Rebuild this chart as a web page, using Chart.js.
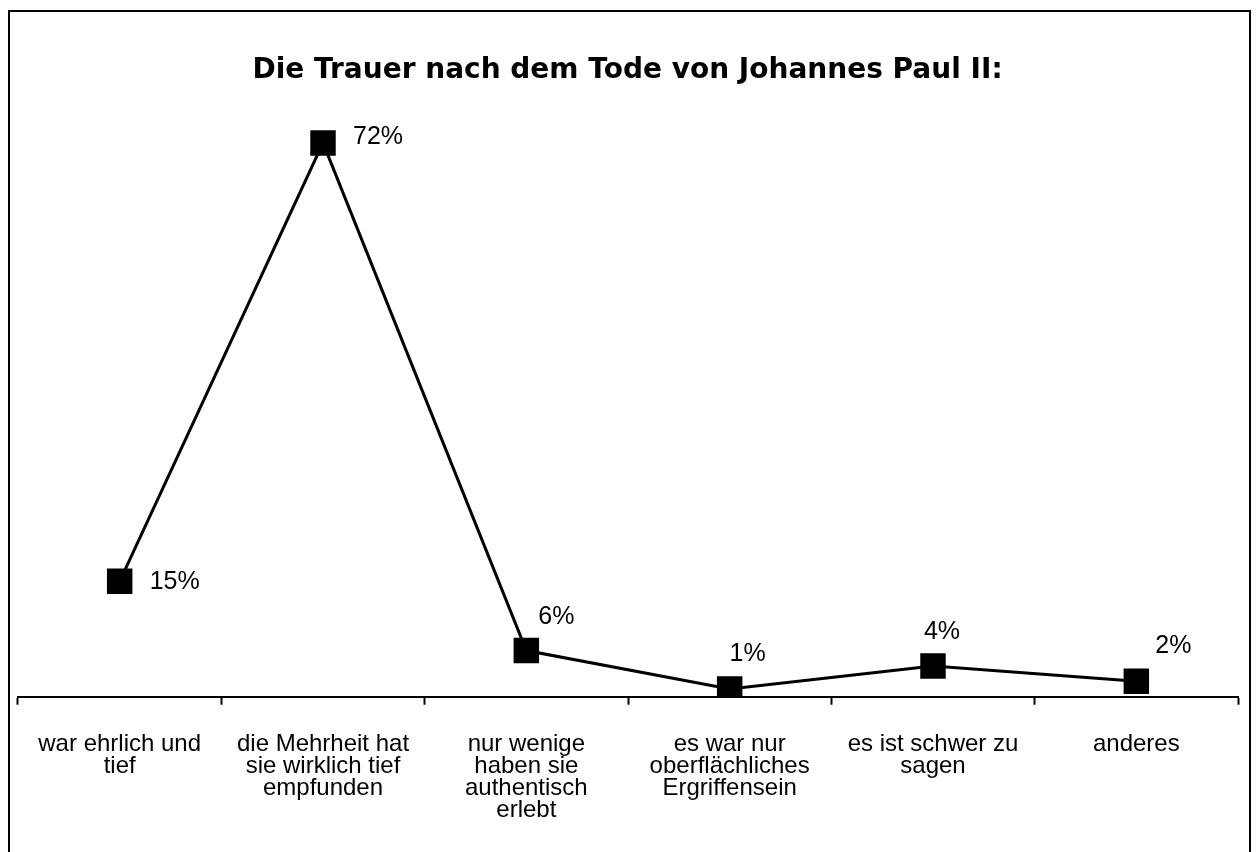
<!DOCTYPE html>
<html>
<head>
<meta charset="utf-8">
<script src="https://cdn.jsdelivr.net/npm/chart.js@4"></script>
<style>
  html, body { margin: 0; padding: 0; background: #fff; }
  #wrap { width: 1256px; height: 852px; }
</style>
</head>
<body>
<div id="wrap"><canvas id="trauerChart" width="1256" height="852"></canvas></div>
<script>
var categories = [
    ['war ehrlich und', 'tief'],
    ['die Mehrheit hat', 'sie wirklich tief', 'empfunden'],
    ['nur wenige', 'haben sie', 'authentisch', 'erlebt'],
    ['es war nur', 'oberflächliches', 'Ergriffensein'],
    ['es ist schwer zu', 'sagen'],
    ['anderes']
];
var values = [15, 72, 6, 1, 4, 2];

// label position relative to each marker (dx, dy, align)
var labelPlacement = [
    [30, 1, 'left'], [30, -6, 'left'], [30, -33, 'center'],
    [18, -35, 'center'], [9, -34, 'center'], [37, -35, 'center']
];

var frame = {
    id: 'frame',
    beforeDraw: function(chart) {
        var ctx = chart.ctx;
        ctx.save();
        ctx.fillStyle = '#fff';
        ctx.fillRect(0, 0, chart.width, chart.height);
        ctx.strokeStyle = '#000';
        ctx.lineWidth = 2;
        ctx.strokeRect(9, 11, 1241, 860);
        ctx.restore();
    }
};

var valueLabels = {
    id: 'valueLabels',
    afterDatasetsDraw: function(chart) {
        var ctx = chart.ctx;
        var meta = chart.getDatasetMeta(0);
        ctx.save();
        ctx.fillStyle = '#000';
        ctx.font = '25px "Liberation Sans", Arial, sans-serif';
        ctx.textBaseline = 'middle';
        meta.data.forEach(function(pt, i) {
            var p = labelPlacement[i];
            ctx.textAlign = p[2];
            ctx.fillText(values[i] + '%', pt.x + p[0], pt.y + p[1]);
        });
        ctx.restore();
    }
};

var trauerChart = new Chart(document.getElementById('trauerChart').getContext('2d'), {
    type: 'line',
    data: {
        labels: categories,
        datasets: [{
            data: values,
            borderColor: '#000',
            borderWidth: 3,
            backgroundColor: '#000',
            pointStyle: 'rect',
            pointRadius: 18,
            pointHoverRadius: 18,
            pointBorderWidth: 0,
            tension: 0
        }]
    },
    options: {
        responsive: false,
        animation: false,
        events: [],
        layout: {
            padding: { left: 17, right: 18, top: 0, bottom: 2 }
        },
        plugins: {
            legend: { display: false },
            tooltip: { enabled: false },
            title: {
                display: true,
                text: 'Die Trauer nach dem Tode von Johannes Paul II:',
                color: '#000',
                font: { family: '"DejaVu Sans", Arial, sans-serif', size: 28, weight: 'bold' },
                padding: { top: 54, bottom: 13 }
            }
        },
        scales: {
            x: {
                offset: true,
                grid: {
                    offset: true,
                    drawOnChartArea: false,
                    drawTicks: true,
                    tickLength: 8,
                    tickWidth: 2,
                    tickColor: '#000'
                },
                border: { display: true, color: '#000', width: 2 },
                ticks: {
                    autoSkip: false,
                    maxRotation: 0,
                    minRotation: 0,
                    padding: 28,
                    color: '#000',
                    font: { family: '"Liberation Sans", Arial, sans-serif', size: 24, lineHeight: 0.93 }
                }
            },
            y: {
                display: false,
                min: 0,
                max: 77.5
            }
        }
    },
    plugins: [frame, valueLabels]
});
</script>
</body>
</html>
